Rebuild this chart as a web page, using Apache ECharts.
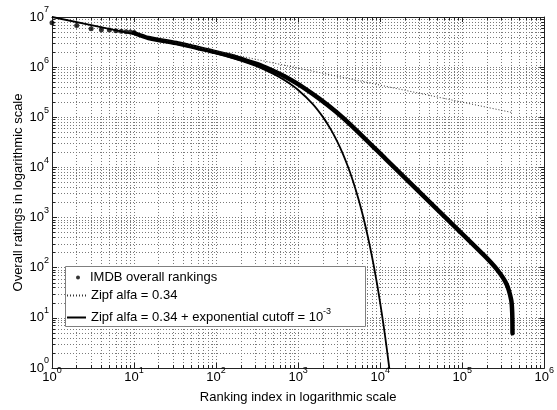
<!DOCTYPE html>
<html>
<head>
<meta charset="utf-8">
<script src="https://cdn.jsdelivr.net/npm/echarts@6/dist/echarts.min.js"></script>
<style>
html,body{margin:0;padding:0;background:#fff;}
#chart{width:557px;height:410px;}
</style>
</head>
<body>
<div id="chart"></div>
<script>
// ---- data ----
const legendNames = ['IMDB overall rankings', 'Zipf alfa = 0.34', 'Zipf alfa = 0.34 + exponential cutoff = 10^-3'];

// individual IMDB markers (top ranks)
const imdbRanks   = [1, 2, 3, 4, 5, 6, 7, 8, 9, 10];
const imdbRatings = [7.7e6, 6.8e6, 5.85e6, 5.6e6, 5.5e6, 5.3e6, 5.2e6, 5.1e6, 5.0e6, 4.9e6];

// dense IMDB curve (markers merge into a thick line)
const curveRanks   = [10, 15, 34.5, 86, 138, 221, 344, 550, 725, 1161, 1808, 2895, 4635, 11550, 55900, 183800, 263400, 347400, 396000, 407000, 410000];
const curveRatings = [4.8e6, 3.81e6, 2.96e6, 2.1e6, 1.75e6, 1.39e6, 1.1e6, 7.8e5, 6.2e5, 3.92e5, 2.36e5, 1.29e5, 6.46e4, 1.5e4, 1.2e3, 178, 93.3, 46.9, 22.4, 12.4, 4.93];

// Zipf fit (straight line on log-log)
const zipfRanks   = [1, 410000];
const zipfRatings = [1e7, 1.24e5];

// Zipf with exponential cutoff
const cutRanks   = [1, 10, 50, 100, 200, 300, 500, 700, 1000, 1500, 2000, 2500, 3000, 3500, 4000, 4500, 5000, 5500, 6000, 6500, 7000, 7500, 8000, 8500, 9000, 9500, 10000, 10500, 11000, 11500, 12000, 12500, 13000];
const cutRatings = [1e7, 4.53e6, 2.52e6, 1.89e6, 1.35e6, 1.07e6, 7.33e5, 5.35e5, 3.51e5, 1.86e5, 1.02e5, 5.74e4, 3.28e4, 1.89e4, 1.09e4, 6.36e3, 3.72e3, 2.19e3, 1.29e3, 759, 449, 266, 158, 93.9, 55.9, 33.3, 19.8, 11.8, 7.06, 4.22, 2.52, 1.51, 0.90];

// ---- chart ----
const FONT = '"Liberation Sans", Arial, Helvetica, sans-serif';
const pairs = (xs, ys) => xs.map((x, i) => [x, ys[i]]);

function expLabel(v) {
  const e = Math.round(Math.log10(v));
  return '{b|10}{s|' + e + '}';
}
const labelRich = {
  b: { fontSize: 13, fontFamily: FONT, color: '#000' },
  s: { fontSize: 9, fontFamily: FONT, color: '#000', padding: [0, 0, 14, 0] }
};
const gridDash = { color: '#7a7a7a', width: 1, type: [1, 2] };

function mkAxis(isX, main) {
  return {
    type: 'log',
    logBase: 10,
    min: 1,
    max: isX ? 1e6 : 1e7,
    splitNumber: isX ? 6 : 7,
    position: isX ? (main ? 'bottom' : 'top') : (main ? 'left' : 'right'),
    axisLine: { show: true, onZero: false, lineStyle: { color: '#222', width: 1 } },
    axisTick: { show: true, inside: true, length: 5, lineStyle: { color: '#222' } },
    minorTick: { show: true, splitNumber: 9, length: 3, lineStyle: { color: '#222' } },
    splitLine: { show: main, lineStyle: gridDash },
    minorSplitLine: { show: main, lineStyle: gridDash },
    axisLabel: main ? {
      show: true,
      formatter: expLabel,
      rich: labelRich,
      margin: isX ? -2 : 3,
      color: '#000'
    } : { show: false },
    name: main ? (isX ? 'Ranking index in logarithmic scale' : 'Overall ratings in logarithmic scale') : '',
    nameLocation: 'middle',
    nameMoveOverlap: false,
    nameGap: isX ? 23 : 27,
    nameTextStyle: { fontSize: 13, fontFamily: FONT, color: '#000' }
  };
}

const legendBase = {
  orient: 'vertical',
  left: 66,
  padding: 0,
  itemWidth: 19,
  selectedMode: false,
  textStyle: {
    fontSize: 13, fontFamily: FONT, color: '#000',
    rich: {
      t: { fontSize: 13, fontFamily: FONT, color: '#000' },
      s: { fontSize: 9, fontFamily: FONT, color: '#000', padding: [0, 0, 12, 0] }
    }
  },
  formatter: function (name) {
    if (name === legendNames[2]) {
      return '{t|Zipf alfa = 0.34 + exponential cutoff = 10}{s|-3}';
    }
    return '{t|' + name + '}';
  }
};

const chart = echarts.init(document.getElementById('chart'), null, { renderer: 'canvas' });
chart.setOption({
  animation: false,
  backgroundColor: '#fff',
  grid: { left: 52, right: 6, top: 17, bottom: 42, containLabel: false },
  xAxis: [mkAxis(true, true), mkAxis(true, false)],
  yAxis: [mkAxis(false, true), mkAxis(false, false)],
  graphic: [{
    type: 'rect',
    z: 3,
    shape: { x: 65.5, y: 266.5, width: 300, height: 60 },
    style: { fill: '#fff', stroke: '#7f7f7f', lineWidth: 1 }
  }],
  legend: [
    Object.assign({}, legendBase, {
      top: 271, itemHeight: 4,
      data: [{ name: legendNames[0], icon: 'path://M0,0M19,4M10,2a2,2 0 1,0 4,0a2,2 0 1,0 -4,0z' }]
    }),
    Object.assign({}, legendBase, { top: 289, itemHeight: 14, itemStyle: { opacity: 0 }, data: [legendNames[1]] }),
    Object.assign({}, legendBase, { top: 307, itemHeight: 14, itemStyle: { opacity: 0 }, data: [legendNames[2]] })
  ],
  series: [
    {
      name: 'IMDB curve',
      type: 'line',
      data: pairs(curveRanks, curveRatings),
      showSymbol: false,
      symbol: 'none',
      smooth: 0.2,
      lineStyle: { color: '#000', width: 4.5, cap: 'round', join: 'round' },
      z: 2
    },
    {
      name: legendNames[0],
      type: 'scatter',
      data: pairs(imdbRanks, imdbRatings),
      symbol: 'circle',
      symbolSize: 5,
      itemStyle: { color: '#000' },
      z: 2
    },
    {
      name: legendNames[1],
      type: 'line',
      data: pairs(zipfRanks, zipfRatings),
      showSymbol: false,
      symbol: 'none',
      itemStyle: { color: '#333' },
      lineStyle: { color: '#333', width: 1, type: [1, 2] },
      z: 2
    },
    {
      name: legendNames[2],
      type: 'line',
      data: pairs(cutRanks, cutRatings),
      showSymbol: false,
      symbol: 'none',
      smooth: 0.2,
      itemStyle: { color: '#000' },
      lineStyle: { color: '#000', width: 1.8 },
      clip: true,
      z: 2
    }
  ]
});
</script>
</body>
</html>
